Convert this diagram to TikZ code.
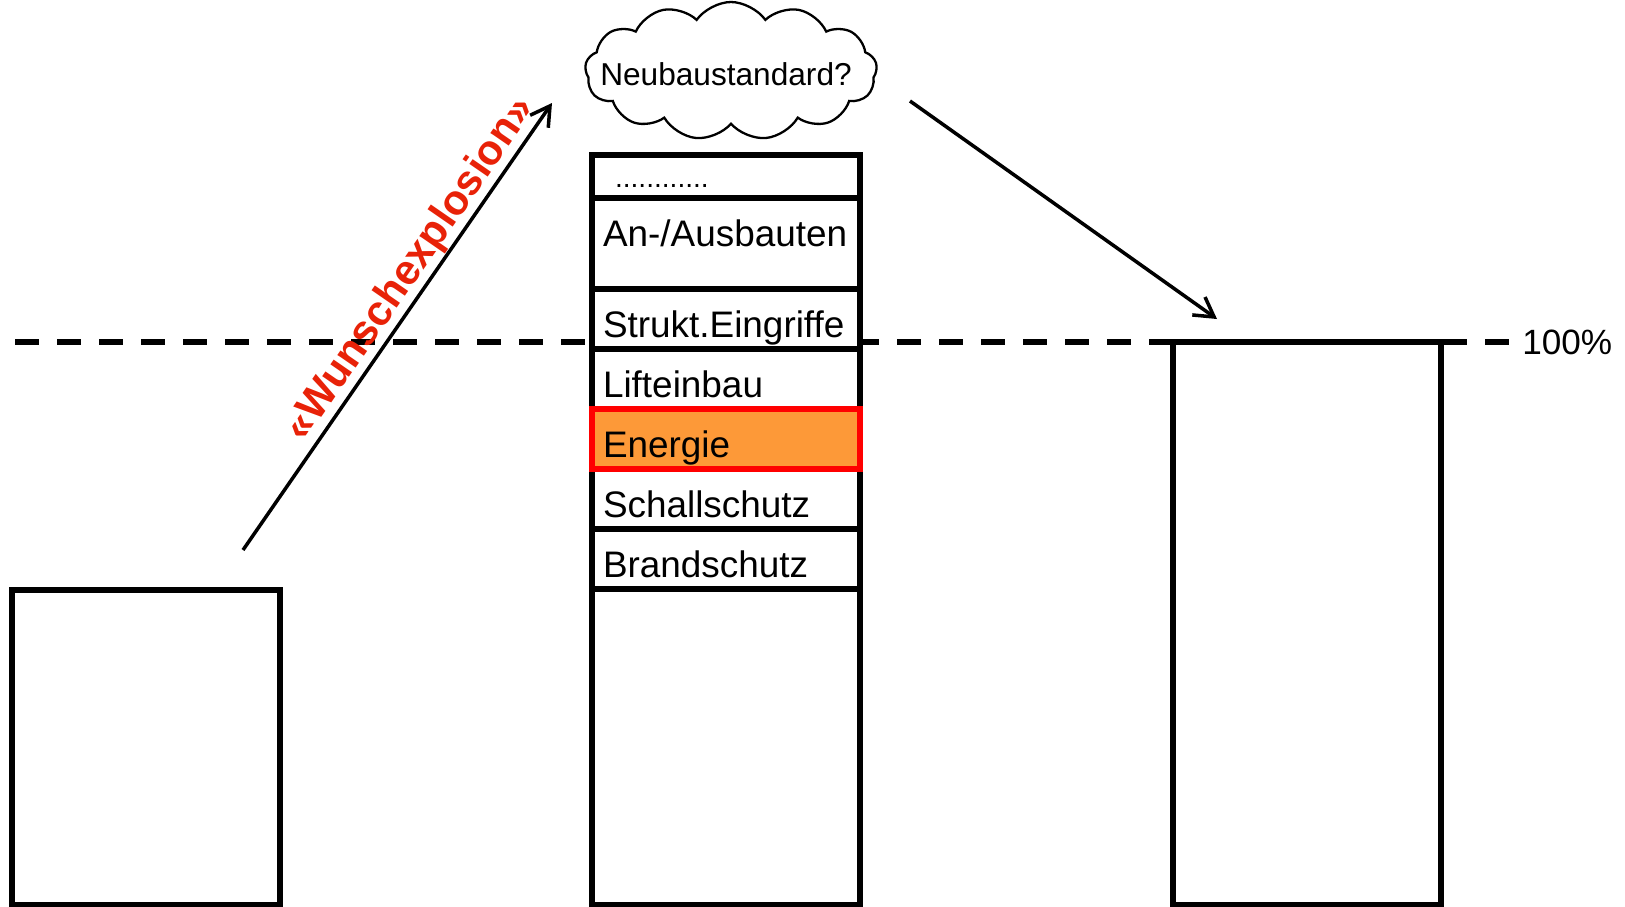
\documentclass[tikz,border=0pt]{standalone}
\usepackage{fontspec}
\setmainfont{Liberation Sans}
\usepackage{tikz}
\usetikzlibrary{arrows.meta, positioning, shapes.symbols, calc}

\definecolor{energieorange}{RGB}{253,153,56}
\definecolor{wunschred}{RGB}{232,34,8}

\begin{document}
\begin{tikzpicture}[>={Straight Barb[length=3.8mm,width=4.4mm]},
    bar/.style={draw, line width=3.4pt, fill=white, minimum width=5.36cm, outer sep=0pt, inner sep=0pt},
    sect/.style={bar, text width=4.92cm, align=left, inner xsep=0.22cm, inner ysep=0pt,
        text height=0.72cm, text depth=0pt, font=\fontsize{21pt}{25pt}\selectfont},
    arrowline/.style={line width=2pt, ->},
    refline/.style={line width=3.2pt, dash pattern=on 0.47cm off 0.37cm}]
    \useasboundingbox (0,0) rectangle (32.5,-18.12);

    % Reference line 100%
    \coordinate (lineL) at (0.3,-6.84);
    \coordinate (lineR) at (30.2,-6.84);
    \draw[refline] (lineL) -- (lineR);
    \node[right=0.24cm of lineR, inner sep=0pt, font=\fontsize{20pt}{24pt}\selectfont] (pct) {100\%};

    % Left bar
    \node[bar, minimum height=6.3cm, anchor=north west] (old) at (0.24,-11.8) {};

    % Middle column
    \node[sect, minimum height=0.86cm, anchor=north west, text width=4.44cm, inner xsep=0.46cm,
        text height=0.42cm, font=\fontsize{16pt}{18pt}\selectfont] (dots) at (11.84,-3.1) {............};
    \node[sect, minimum height=1.82cm, text depth=0.62cm, below=0pt of dots] (ausbau) {An-/Ausbauten};
    \node[sect, minimum height=1.2cm, below=0pt of ausbau] (strukt) {Strukt.Eingriffe};
    \node[sect, minimum height=1.2cm, below=0pt of strukt] (lift) {Lifteinbau};
    \node[sect, minimum height=1.2cm, below=1.2cm of lift] (schall) {Schallschutz};
    \node[sect, minimum height=1.2cm, below=0pt of schall] (brand) {Brandschutz};
    \node[bar, minimum height=6.32cm, below=0pt of brand] (base) {};
    \node[sect, minimum height=1.2cm, below=0pt of lift, draw=red, fill=energieorange, line width=3.2pt] (energie) {Energie};

    % Right bar
    \node[bar, minimum height=11.26cm, anchor=north west] (neu) at (23.46,-6.84) {};

    % Cloud
    \node[cloud, draw, line width=1.3pt, cloud puffs=13, cloud puff arc=110, aspect=2.1,
        minimum width=5.84cm, minimum height=2.76cm, inner sep=0pt] (wish) at (14.62,-1.42) {};
    \node[font=\fontsize{18pt}{20pt}\selectfont, xshift=-0.1cm, yshift=-0.06cm] (wishtext) at (wish) {Neubaustandard?};

    % Arrows
    \coordinate (upStart) at (4.86,-11.0);
    \coordinate (upEnd) at (11.04,-2.06);
    \coordinate (downStart) at (18.2,-2.02);
    \coordinate (downEnd) at (24.34,-6.38);
    \draw[arrowline] (upStart) -- node[pos=0.6, sloped, above, inner sep=0pt, text=wunschred,
        font=\fontsize{24pt}{26pt}\selectfont\bfseries] (wunsch) {«Wunschexplosion»} (upEnd);
    \draw[arrowline] (downStart) -- (downEnd);
\end{tikzpicture}
\end{document}
